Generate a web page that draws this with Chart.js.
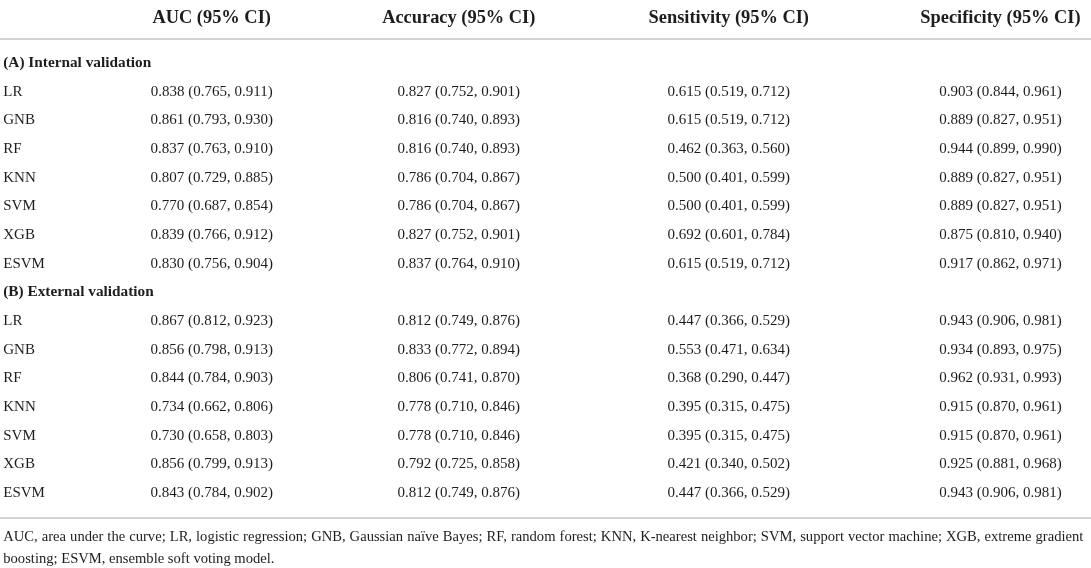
<!DOCTYPE html>
<html>
<head>
<meta charset="utf-8">
<script src="https://cdn.jsdelivr.net/npm/chart.js@4.4.0/dist/chart.umd.min.js"></script>
<style>
  html, body { margin: 0; padding: 0; background: #fff; }
  #wrap { width: 1091px; height: 568px; position: relative; }
</style>
</head>
<body>
<div id="wrap"><canvas id="tableChart"></canvas></div>
<script>
// table content
const models = ['LR', 'GNB', 'RF', 'KNN', 'SVM', 'XGB', 'ESVM'];
const sections = ['(A) Internal validation', '(B) External validation'];
const metrics = ['AUC (95% CI)', 'Accuracy (95% CI)', 'Sensitivity (95% CI)', 'Specificity (95% CI)'];

// [estimate, lower, upper] per model
const aucInternal = [[0.838,0.765,0.911],[0.861,0.793,0.930],[0.837,0.763,0.910],[0.807,0.729,0.885],[0.770,0.687,0.854],[0.839,0.766,0.912],[0.830,0.756,0.904]];
const accInternal = [[0.827,0.752,0.901],[0.816,0.740,0.893],[0.816,0.740,0.893],[0.786,0.704,0.867],[0.786,0.704,0.867],[0.827,0.752,0.901],[0.837,0.764,0.910]];
const senInternal = [[0.615,0.519,0.712],[0.615,0.519,0.712],[0.462,0.363,0.560],[0.500,0.401,0.599],[0.500,0.401,0.599],[0.692,0.601,0.784],[0.615,0.519,0.712]];
const speInternal = [[0.903,0.844,0.961],[0.889,0.827,0.951],[0.944,0.899,0.990],[0.889,0.827,0.951],[0.889,0.827,0.951],[0.875,0.810,0.940],[0.917,0.862,0.971]];

const aucExternal = [[0.867,0.812,0.923],[0.856,0.798,0.913],[0.844,0.784,0.903],[0.734,0.662,0.806],[0.730,0.658,0.803],[0.856,0.799,0.913],[0.843,0.784,0.902]];
const accExternal = [[0.812,0.749,0.876],[0.833,0.772,0.894],[0.806,0.741,0.870],[0.778,0.710,0.846],[0.778,0.710,0.846],[0.792,0.725,0.858],[0.812,0.749,0.876]];
const senExternal = [[0.447,0.366,0.529],[0.553,0.471,0.634],[0.368,0.290,0.447],[0.395,0.315,0.475],[0.395,0.315,0.475],[0.421,0.340,0.502],[0.447,0.366,0.529]];
const speExternal = [[0.943,0.906,0.981],[0.934,0.893,0.975],[0.962,0.931,0.993],[0.915,0.870,0.961],[0.915,0.870,0.961],[0.925,0.881,0.968],[0.943,0.906,0.981]];

const footnoteLines = [
  'AUC, area under the curve; LR, logistic regression; GNB, Gaussian naïve Bayes; RF, random forest; KNN, K-nearest neighbor; SVM, support vector machine; XGB, extreme gradient',
  'boosting; ESVM, ensemble soft voting model.'
];

// layout (x in % of width, y in row units)
const colPos = [19.4, 42.05, 66.8, 91.7];
const labelPos = 0.3;
const headerRow = -1.56;
const topRule = -0.84;
const bottomRule = 15.87;
const noteRows = [16.55, 17.3];

const ink = '#1f1c1d';
const serif = '"Liberation Serif", "DejaVu Serif", serif';

const byMetric = [
  [aucInternal, aucExternal],
  [accInternal, accExternal],
  [senInternal, senExternal],
  [speInternal, speExternal]
];

function fmt(t) {
  return t[0].toFixed(3) + ' (' + t[1].toFixed(3) + ', ' + t[2].toFixed(3) + ')';
}

const datasets = [];

// value columns
byMetric.forEach(function(pair, j) {
  const pts = [];
  pair.forEach(function(arr, s) {
    arr.forEach(function(t, i) {
      pts.push({ x: colPos[j], y: s * 8 + 1 + i, text: fmt(t) });
    });
  });
  datasets.push({ label: metrics[j], data: pts, cellFont: '15px ' + serif, cellAlign: 'center' });
});

// header row
datasets.push({
  label: 'header',
  data: metrics.map(function(m, j) { return { x: colPos[j], y: headerRow, text: m }; }),
  cellFont: 'bold 18.4px ' + serif, cellAlign: 'center'
});

// section titles
datasets.push({
  label: 'sections',
  data: sections.map(function(t, s) { return { x: labelPos, y: s * 8, text: t }; }),
  cellFont: 'bold 15.3px ' + serif, cellAlign: 'left'
});

// model names
const rowPts = [];
sections.forEach(function(t, s) {
  models.forEach(function(m, i) { rowPts.push({ x: labelPos, y: s * 8 + 1 + i, text: m }); });
});
datasets.push({ label: 'models', data: rowPts, cellFont: '15px ' + serif, cellAlign: 'left' });

function justify(ctx, text, x0, x1, y) {
  const words = text.split(' ');
  let sum = 0;
  words.forEach(function(w) { sum += ctx.measureText(w).width; });
  const gap = (x1 - x0 - sum) / (words.length - 1);
  let x = x0;
  words.forEach(function(w) {
    ctx.fillText(w, x, y);
    x += ctx.measureText(w).width + gap;
  });
}

const cellText = {
  id: 'cellText',
  afterDatasetsDraw(chart) {
    const ctx = chart.ctx;
    const xs = chart.scales.x, ys = chart.scales.y;
    ctx.save();
    // rules
    ctx.strokeStyle = '#d3d3d3';
    ctx.lineWidth = 2;
    [topRule, bottomRule].forEach(function(r) {
      const py = ys.getPixelForValue(r);
      ctx.beginPath();
      ctx.moveTo(xs.left, py);
      ctx.lineTo(xs.right, py);
      ctx.stroke();
    });
    ctx.fillStyle = ink;
    ctx.textBaseline = 'middle';
    chart.data.datasets.forEach(function(ds, di) {
      const meta = chart.getDatasetMeta(di);
      ctx.font = ds.cellFont;
      ctx.textAlign = ds.cellAlign;
      meta.data.forEach(function(el, k) {
        ctx.fillText(ds.data[k].text, el.x, el.y);
      });
    });
    // footnote
    ctx.font = '14.6px ' + serif;
    ctx.textAlign = 'left';
    const x0 = xs.getPixelForValue(labelPos);
    const x1 = xs.getPixelForValue(99.3);
    justify(ctx, footnoteLines[0], x0, x1, ys.getPixelForValue(noteRows[0]));
    ctx.fillText(footnoteLines[1], x0, ys.getPixelForValue(noteRows[1]));
    ctx.restore();
  }
};

new Chart(document.getElementById('tableChart'), {
  type: 'scatter',
  data: { datasets: datasets },
  options: {
    responsive: true,
    maintainAspectRatio: false,
    animation: false,
    layout: { padding: 0 },
    elements: { point: { radius: 0, hoverRadius: 0 } },
    plugins: { legend: { display: false }, tooltip: { enabled: false } },
    scales: {
      x: { type: 'linear', min: 0, max: 100, display: false },
      y: { type: 'linear', min: -2.197, max: 17.61, reverse: true, display: false }
    }
  },
  plugins: [cellText]
});
</script>
</body>
</html>
